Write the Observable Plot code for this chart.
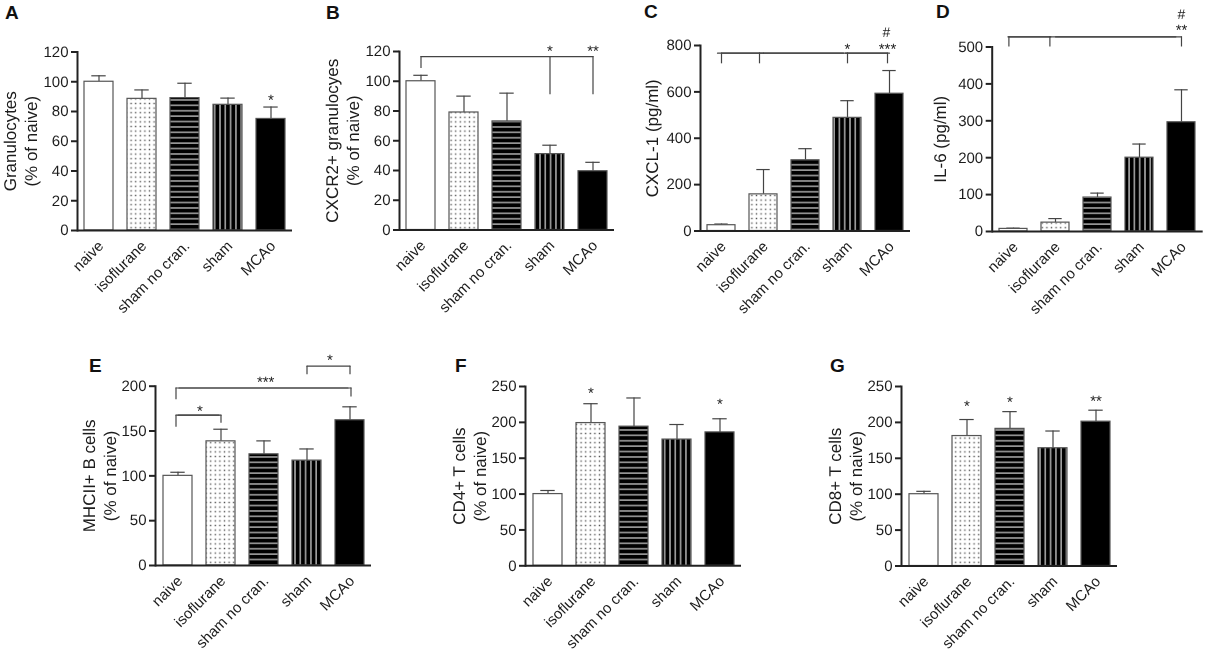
<!DOCTYPE html>
<html>
<head>
<meta charset="utf-8">
<script src="https://cdn.jsdelivr.net/npm/d3@7"></script>
<script src="https://cdn.jsdelivr.net/npm/@observablehq/plot@0.6"></script>
<style>
  html, body { margin: 0; padding: 0; background: #fff; }
  body { position: relative; width: 1205px; height: 650px; overflow: hidden; font-family: "Liberation Sans", Arial, sans-serif; }
  .panel { position: absolute; filter: blur(0.35px); }
  .panel svg { display: block; overflow: visible; background: none; text-rendering: geometricPrecision; }
  .letter { position: absolute; font: bold 19px "Liberation Sans", Arial, sans-serif; color: #111; line-height: 1; }
</style>
</head>
<body>
<svg width="0" height="0" style="position:absolute">
  <defs>
    <pattern id="dots" width="4.6" height="4.6" patternUnits="userSpaceOnUse">
      <rect width="4.6" height="4.6" fill="#fff"/>
      <rect x="1.6" y="1.6" width="1.4" height="1.4" fill="#555"/>
    </pattern>
    <pattern id="hlines" width="5.4" height="5.4" patternUnits="userSpaceOnUse">
      <rect width="5.4" height="5.4" fill="#000"/>
      <rect y="2" width="5.4" height="1.5" fill="#a8a8a8"/>
    </pattern>
    <pattern id="vlines" width="5.3" height="5.3" patternUnits="userSpaceOnUse">
      <rect width="5.3" height="5.3" fill="#000"/>
      <rect x="2" width="1.4" height="5.3" fill="#bbb"/>
    </pattern>
  </defs>
</svg>
<script>
// ---------- data ----------
const categories = ["naive", "isoflurane", "sham no cran.", "sham", "MCAo"];
const fills = ["#fff", "url(#dots)", "url(#hlines)", "url(#vlines)", "#000"];

const granulocytes     = [100, 88.5, 89, 84.5, 75];
const granulocytesTop  = [104, 94.5, 99, 89, 83];
const cxcr2            = [100, 79, 73, 51, 39.5];
const cxcr2Top         = [104, 90, 92, 57, 45.5];
const cxcl1            = [25, 158, 305, 488, 592];
const cxcl1Top         = [30, 265, 355, 562, 692];
const il6              = [7, 24, 92, 200, 296];
const il6Top           = [9, 35, 104, 237, 384];
const mhcii            = [100, 138.5, 124, 117, 162];
const mhciiTop         = [104, 152, 139, 130, 177];
const cd4              = [100, 199, 194, 176, 186];
const cd4Top           = [105, 226, 234, 197, 205];
const cd8              = [100, 181, 191, 164, 201];
const cd8Top           = [104, 204, 215, 188, 217];

const ticks120 = [0, 20, 40, 60, 80, 100, 120];
const ticks800 = [0, 200, 400, 600, 800];
const ticks500 = [0, 100, 200, 300, 400, 500];
const ticks200 = [0, 50, 100, 150, 200];
const ticks250 = [0, 50, 100, 150, 200, 250];

// significance marks: [category, value, text, horizontal nudge]
const starsA = [["MCAo", 88.9, "*", 0]];
const starsB = [["sham", 121.1, "*", 0], ["MCAo", 121.1, "**", 0]];
const starsC = [["sham", 792.7, "*", 0], ["MCAo", 792.7, "***", -2], ["MCAo", 856, "#", -3]];
const starsD = [["MCAo", 549.3, "**", 0], ["MCAo", 589, "#", 0]];
const starsE = [["sham", 231.2, "*", 23], ["sham no cran.", 206, "***", 1.7], ["naive", 174.3, "*", 22]];
const starsF = [["isoflurane", 243.4, "*", 0], ["MCAo", 227.3, "*", 0]];
const starsG = [["isoflurane", 225, "*", 0], ["sham no cran.", 230.6, "*", 0], ["MCAo", 232, "**", 0]];

// brackets: top value, then legs [category, lower end, horizontal nudge]
const bracketsB = [{top: 116.6, legs: [["naive", 108.5, 0], ["sham", 91, 0], ["MCAo", 91, 0]]}];
const bracketsC = [{top: 767, legs: [["naive", 721, 0], ["isoflurane", 721, -4], ["sham", 721, 0], ["MCAo", 721, -2]]}];
const bracketsD = [{top: 527.6, legs: [["naive", 500, -4.6], ["isoflurane", 500, -5.6], ["MCAo", 500, 0]]}];
const bracketsE = [
  {top: 222.3, legs: [["sham", 212.7, 0], ["MCAo", 212.7, 0]]},
  {top: 198, legs: [["naive", 185, -2], ["MCAo", 188, 1]]},
  {top: 167.7, legs: [["naive", 154.3, -2], ["isoflurane", 158.7, 0]]}
];

// ---------- layout ----------
const panels = [
  {letter: "A", lx: 5,   ly: 3,   left: 0,   top: 0,   axisX: 77,    len: 215, yTop: 51.5, y0: 230,   max: 120, ticks: ticks120, v: granulocytes, e: granulocytesTop, stars: starsA, brackets: [], title: "Granulocytes\n(% of naive)", tdx: -58},
  {letter: "B", lx: 326, ly: 3,   left: 320, top: 0,   axisX: 399,   len: 215, yTop: 51,   y0: 229.5, max: 120, ticks: ticks120, v: cxcr2, e: cxcr2Top, stars: starsB, brackets: bracketsB, title: "CXCR2+ granulocyes\n(% of naive)", tdx: -58},
  {letter: "C", lx: 644, ly: 2,   left: 630, top: 0,   axisX: 700,   len: 210, yTop: 45,   y0: 230.5, max: 800, ticks: ticks800, v: cxcl1, e: cxcl1Top, stars: starsC, brackets: bracketsC, title: "CXCL-1 (pg/ml)", tdx: -49},
  {letter: "D", lx: 936, ly: 2,   left: 925, top: 0,   axisX: 991.7, len: 211, yTop: 46.5, y0: 231,   max: 500, ticks: ticks500, v: il6, e: il6Top, stars: starsD, brackets: bracketsD, title: "IL-6 (pg/ml)", tdx: -53},
  {letter: "E", lx: 89,  ly: 356, left: 75,  top: 330, axisX: 155,   len: 216, yTop: 385.7, y0: 565,  max: 200, ticks: ticks200, v: mhcii, e: mhciiTop, stars: starsE, brackets: bracketsE, title: "MHCII+ B cells\n(% of naive)", tdx: -56.5},
  {letter: "F", lx: 455, ly: 356, left: 450, top: 330, axisX: 525,   len: 216, yTop: 386,  y0: 565.3, max: 250, ticks: ticks250, v: cd4, e: cd4Top, stars: starsF, brackets: [], title: "CD4+ T cells\n(% of naive)", tdx: -56.5},
  {letter: "G", lx: 830, ly: 356, left: 820, top: 330, axisX: 901,   len: 216, yTop: 386,  y0: 565.5, max: 250, ticks: ticks250, v: cd8, e: cd8Top, stars: starsG, brackets: [], title: "CD8+ T cells\n(% of naive)", tdx: -57}
];

const ink = "#1c1c1c";
const lineInk = "#444";
const svgHeight = 320;

function bracketMarks(b) {
  const marks = [];
  b.legs.forEach(([cat, low, nudge], i) => {
    marks.push(Plot.ruleX([cat], {y1: low, y2: b.top, dx: nudge, stroke: lineInk, strokeWidth: 1.2}));
    if (i > 0) {
      const prev = b.legs[i - 1];
      const seg = [{c: prev[0], y: b.top}, {c: cat, y: b.top}];
      for (const n of new Set([prev[2], nudge])) {
        marks.push(Plot.line(seg, {x: "c", y: "y", dx: n, stroke: lineInk, strokeWidth: 1.2}));
      }
    }
  });
  return marks;
}

for (const p of panels) {
  const rows = categories.map((c, i) => ({c, v: p.v[i], e: p.e[i], f: fills[i]}));
  const marginLeft = p.axisX - p.left;
  const marginTop = p.yTop - p.top;
  const marginBottom = svgHeight - (p.y0 - p.top);
  const chart = Plot.plot({
    width: marginLeft + p.len,
    height: svgHeight,
    marginLeft, marginTop, marginBottom, marginRight: 0,
    style: {background: "none", fontFamily: '"Liberation Sans", Arial, sans-serif', overflow: "visible"},
    x: {type: "band", domain: categories, paddingInner: 0.33, paddingOuter: 0.165, label: null},
    y: {domain: [0, p.max], label: null},
    marks: [
      Plot.ruleX(rows, {x: "c", y1: "v", y2: "e", stroke: lineInk, strokeWidth: 1.2}),
      Plot.tickY(rows, {x: "c", y: "e", stroke: lineInk, strokeWidth: 1.2, insetLeft: 7.3, insetRight: 7.3}),
      Plot.barY(rows, {x: "c", y: "v", fill: "f", stroke: "#555", strokeWidth: 1.2}),
      Plot.ruleY([0], {stroke: "#222", strokeWidth: 2}),
      Plot.frame({anchor: "left", stroke: "#222", strokeWidth: 2}),
      Plot.axisY({ticks: p.ticks, tickSize: 6, tickPadding: 3, strokeWidth: 2, stroke: "#222", fill: ink, fontSize: 15, label: null}),
      Plot.axisX({tickSize: 0, tickRotate: -45, tickPadding: 13, dx: 2, fill: ink, fontSize: 15, label: null}),
      Plot.text([p.title], {frameAnchor: "left", rotate: -90, textAnchor: "middle", lineAnchor: "middle", lineHeight: 1.25, dx: p.tdx, fontSize: 17, fill: ink}),
      ...p.brackets.flatMap(bracketMarks),
      ...p.stars.map(([c, y, t, n]) => Plot.text([c], {x: d => d, y: () => y, text: () => t, dx: n, dy: t === "#" ? 0 : 1.5, fontSize: t === "#" ? 14 : 15, fill: ink, lineAnchor: "middle"}))
    ]
  });
  const holder = document.createElement("div");
  holder.className = "panel";
  holder.style.left = p.left + "px";
  holder.style.top = p.top + "px";
  holder.appendChild(chart);
  document.body.appendChild(holder);

  const letter = document.createElement("div");
  letter.className = "letter";
  letter.textContent = p.letter;
  letter.style.left = p.lx + "px";
  letter.style.top = p.ly + "px";
  document.body.appendChild(letter);
}
</script>
</body>
</html>
